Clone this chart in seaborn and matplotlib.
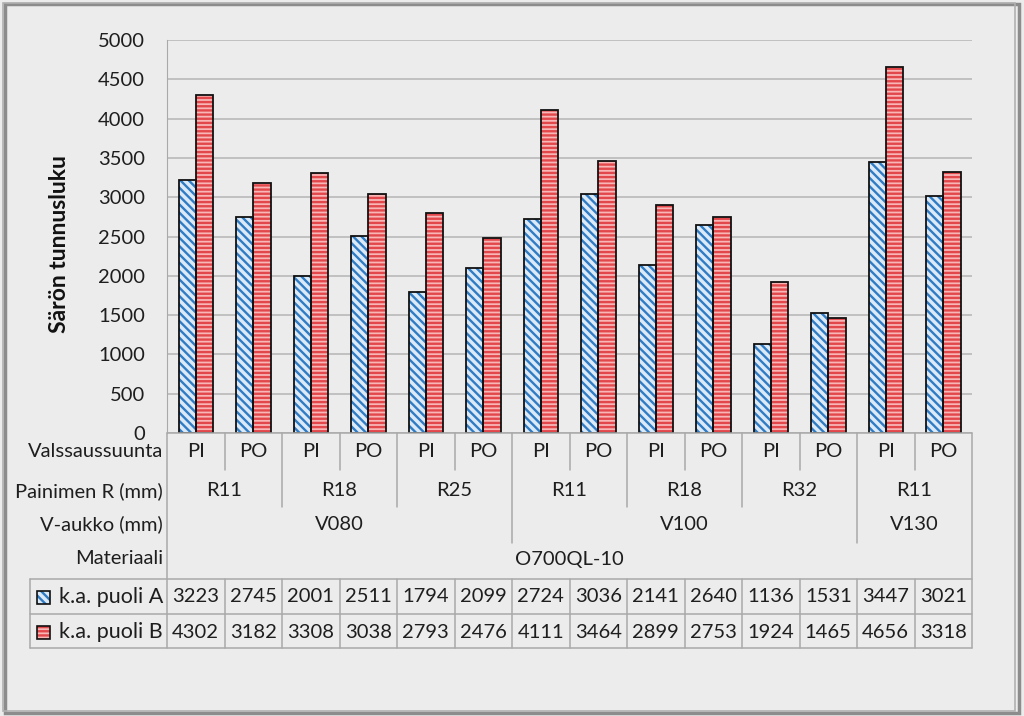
import pandas as pd
import numpy as np
import matplotlib.pyplot as plt
import seaborn as sns
from matplotlib.patches import Rectangle
from matplotlib.transforms import blended_transform_factory

# =========================
# DATA
# =========================
directions = ["PI", "PO"] * 7
radii = ["R11", "R11", "R18", "R18", "R25", "R25",
         "R11", "R11", "R18", "R18", "R32", "R32",
         "R11", "R11"]
openings = ["V080"] * 6 + ["V100"] * 6 + ["V130"] * 2
material = "O700QL-10"

series = ["k.a. puoli A", "k.a. puoli B"]
values_a = [3223, 2745, 2001, 2511, 1794, 2099, 2724, 3036, 2141, 2640, 1136, 1531, 3447, 3021]
values_b = [4302, 3182, 3308, 3038, 2793, 2476, 4111, 3464, 2899, 2753, 1924, 1465, 4656, 3318]

row_labels = ["Valssaussuunta", "Painimen R (mm)", "V-aukko (mm)", "Materiaali"]
y_label = "Särön tunnusluku"
y_ticks = list(range(0, 5001, 500))

keys = [f"{v} {r} {d}" for v, r, d in zip(openings, radii, directions)]
df = pd.DataFrame({
    "key": keys * 2,
    "series": [series[0]] * len(keys) + [series[1]] * len(keys),
    "value": values_a + values_b,
})

# =========================
# STYLE
# =========================
BG = "#ececec"
LINE = "#a9a9a9"
TXT = "#1e1e1e"
FACE = ["#dceaf8", "#f8b6b6"]
HATCH_COL = ["#2f7cc4", "#e2474b"]
HATCHES = ["\\\\\\\\", "----"]

sns.set_style("white")
plt.rcParams["font.family"] = ["Lato", "DejaVu Sans"]
plt.rcParams["hatch.linewidth"] = 1.7
FS = 14.5

W, H = 1024, 716
fig = plt.figure(figsize=(W / 100, H / 100), dpi=100, facecolor=BG)
L, R, T, B = 167, 972, 40, 433
ax = fig.add_axes([L / W, 1 - B / H, (R - L) / W, (B - T) / H])
ax.set_facecolor(BG)


def fy(py):
    return 1 - py / H


def fx(px):
    return px / W


# =========================
# BARS
# =========================
sns.barplot(data=df, x="key", y="value", hue="series", order=keys,
            hue_order=series, palette=FACE, width=0.6, gap=0,
            saturation=1, legend=False, ax=ax, zorder=3)

for i, cont in enumerate(ax.containers):
    for p in cont.patches:
        p.set_hatch(HATCHES[i])
        p.set_edgecolor(HATCH_COL[i])
        p.set_linewidth(0)
        ax.add_patch(Rectangle(p.get_xy(), p.get_width(), p.get_height(),
                               fill=False, ec="#111111", lw=1.3, zorder=4))

ax.set_xlim(-0.5, len(keys) - 0.5)
ax.set_ylim(0, 5000)
ax.set_yticks(y_ticks)
ax.set_yticklabels([str(t) for t in y_ticks], fontsize=FS, color=TXT)
ax.tick_params(axis="y", length=0, pad=16)
ax.set_xticks([])
ax.set_xlabel("")
ax.set_ylabel("")
ax.yaxis.grid(True, color="#b5b5b5", lw=1.1)
ax.set_axisbelow(True)
for s in ["top", "right", "bottom"]:
    ax.spines[s].set_visible(False)
ax.spines["left"].set_color(LINE)

fig.text(fx(59), fy(244), y_label, rotation=90, ha="center", va="center",
         fontsize=16.5, fontweight="bold", color="#111111")

# =========================
# CATEGORY AXIS + TABLE
# =========================
trans = blended_transform_factory(ax.transData, fig.transFigure)
row_y = [451, 491, 524, 559]
tab_y = [597, 632]


def vline(x, y0, y1):
    ax.plot([x, x], [fy(y0), fy(y1)], transform=trans, clip_on=False,
            color=LINE, lw=1.1)


def hline(px0, px1, py):
    fig.add_artist(plt.Line2D([fx(px0), fx(px1)], [fy(py), fy(py)],
                              color=LINE, lw=1.1))


n = len(keys)
for i in range(n):
    ax.text(i, fy(row_y[0]), directions[i], transform=trans, ha="center",
            va="center", fontsize=FS, color=TXT)
    ax.text(i, fy(tab_y[0]), str(values_a[i]), transform=trans, ha="center",
            va="center", fontsize=FS, color=TXT)
    ax.text(i, fy(tab_y[1]), str(values_b[i]), transform=trans, ha="center",
            va="center", fontsize=FS, color=TXT)


def spans(labels):
    out = []
    start = 0
    for i in range(1, len(labels) + 1):
        if i == len(labels) or labels[i] != labels[start] or (labels is radii and openings[i] != openings[start]):
            out.append((start, i - 1, labels[start]))
            start = i
    return out


for s0, s1, lab in spans(radii):
    ax.text((s0 + s1) / 2, fy(row_y[1]), lab, transform=trans, ha="center",
            va="center", fontsize=FS, color=TXT)
for s0, s1, lab in spans(openings):
    ax.text((s0 + s1) / 2, fy(row_y[2]), lab, transform=trans, ha="center",
            va="center", fontsize=FS, color=TXT)
ax.text((n - 1) / 2, fy(row_y[3]), material, transform=trans, ha="center",
        va="center", fontsize=FS, color=TXT)

for lab, py in zip(row_labels, row_y):
    fig.text(fx(163), fy(py), lab, ha="right", va="center", fontsize=FS, color=TXT)

# separators between categories
for i in range(n - 1):
    b = i + 0.5
    if openings[i] != openings[i + 1]:
        vline(b, B, 543)
    elif radii[i] != radii[i + 1] or directions[i + 1] == "PI":
        vline(b, B, 507)
    else:
        vline(b, B, 470)
    vline(b, 579, 648)
vline(-0.5, B, 648)
vline(n - 0.5, B, 648)
hline(L, R, B)

# data table
for py in [579, 614, 648]:
    hline(30, R, py)
fig.add_artist(plt.Line2D([fx(30), fx(30)], [fy(579), fy(648)], color=LINE, lw=1.1))
for i, py in enumerate(tab_y):
    fig.patches.append(Rectangle((fx(37), fy(py + 7)), fx(13), 13 / H,
                                 transform=fig.transFigure, fc=FACE[i],
                                 ec=HATCH_COL[i], hatch=HATCHES[i], lw=0))
    fig.patches.append(Rectangle((fx(37), fy(py + 7)), fx(13), 13 / H,
                                 transform=fig.transFigure, fill=False,
                                 ec="#111111", lw=1.2))
    fig.text(fx(163), fy(py), series[i], ha="right", va="center",
             fontsize=FS + 1, color=TXT)

# outer frame with shadow
fig.patches.append(Rectangle((fx(5), fy(713)), fx(1014), 709 / H,
                             transform=fig.transFigure, fill=False,
                             ec="#8c8c8c", lw=2.5))
fig.patches.append(Rectangle((fx(3), fy(711)), fx(1012), 708 / H,
                             transform=fig.transFigure, fill=False,
                             ec="#b0b0b0", lw=1.2))

plt.savefig("out.png", dpi=100, facecolor=BG)
